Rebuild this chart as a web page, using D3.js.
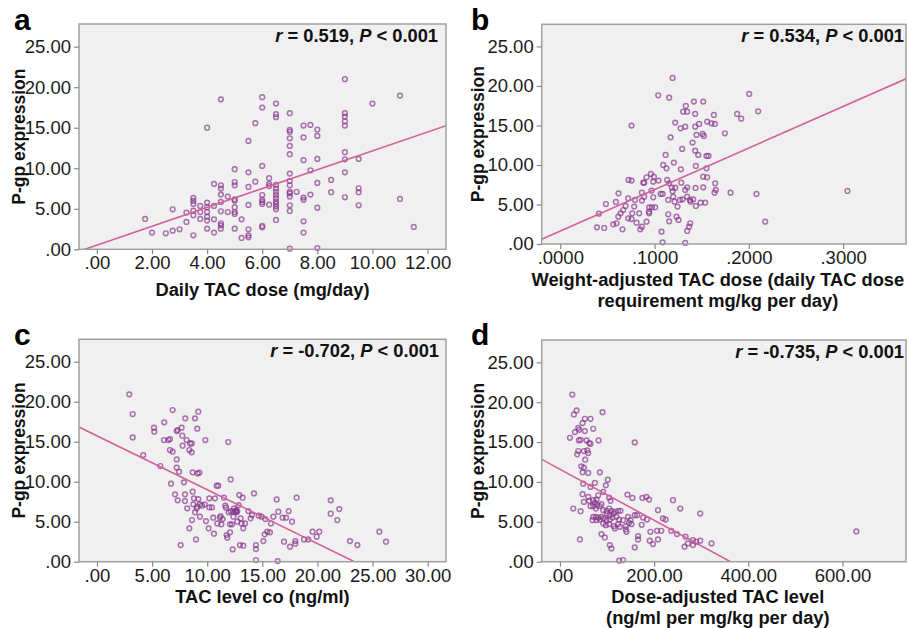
<!DOCTYPE html>
<html><head><meta charset="utf-8">
<script src="https://cdn.jsdelivr.net/npm/d3@7"></script>
<style>
body{margin:0;background:#fff;}
svg{display:block;font-family:"Liberation Sans",Arial,sans-serif;}
</style></head>
<body><svg id="c" width="907" height="628"></svg>
<script>
// ---------- DATA ----------
const yTicks = [0, 5, 10, 15, 20, 25];
const ticksA = [0, 2, 4, 6, 8, 10, 12];
const ticksB = [0, 0.1, 0.2, 0.3];
const ticksC = [0, 5, 10, 15, 20, 25, 30];
const ticksD = [0, 200, 400, 600];

// panel a: daily TAC dose (mg/day) vs P-gp expression
const doseX = [1.75,2,2.5,2.75,2.75,3,3.25,3.25,3.5,3.5,3.5,3.5,3.5,3.5,3.75,3.75,3.75,
 4,4,4,4,4,4,4,4.25,4.25,4.25,4.25,4.5,4.5,4.5,4.5,4.5,4.5,4.5,4.5,4.5,4.75,4.75,
 5,5,5,5,5,5,5,5,5,5.25,5.25,5.5,5.5,5.5,5.5,5.5,5.5,5.5,5.75,5.75,
 6,6,6,6,6,6,6,6,6,6.25,6.25,6.25,6.25,
 6.5,6.5,6.5,6.5,6.5,6.5,6.5,6.5,6.5,6.5,6.5,6.5,6.5,
 7,7,7,7,7,7,7,7,7,7,7,7,7,7,7,7.25,
 7.5,7.5,7.5,7.5,7.5,7.5,7.5,7.75,7.75,7.75,8,8,8,8,8,8,8.5,8.5,
 9,9,9,9,9,9,9,9,9,9.5,9.5,9.5,9.5,10,11,11,11.5];
const doseY = [3.74,2.06,1.98,4.94,2.3,2.47,4.53,3.37,6.34,5.97,5.6,4.77,4.2,1.73,5.35,4.6,3.74,
 15.0,5.76,5.19,4.6,4.03,3.54,2.55,8.07,5.35,3.7,2.06,18.5,7.9,7.49,6.75,5.84,4.69,3.21,2.96,2.55,6.5,4.6,
 9.88,8.3,7.9,6.17,6.0,5.19,4.6,4.36,2.55,3.7,1.4,13.37,9.5,7.7,5.47,2.47,1.73,1.48,15.56,8.35,
 18.77,17.49,10.29,6.7,6.1,5.84,5.6,2.88,2.72,8.77,8.07,7.8,5.5,
 17.98,16.67,16.3,7.94,7.5,7.1,6.7,6.3,5.88,5.6,5.27,4.94,3.62,
 16.79,14.73,14.5,13.7,12.76,11.73,9.34,8.44,7.9,7.08,6.9,6.5,5.43,4.73,0.08,7.1,
 15.27,13.8,11.0,6.38,6.1,3.46,2.06,15.35,9.75,6.75,14.77,13.99,11.15,8.19,5.14,0.16,8.56,7.04,
 20.99,16.79,16.38,15.8,15.27,11.98,11.11,9.5,6.42,11.15,7.53,7.04,5.43,17.98,18.97,6.21,2.76];

// panel b: weight-adjusted TAC dose (mg/kg per day) vs P-gp expression
const wDoseX = [0.0389,0.0466,0.041,0.0484,0.059,0.0618,0.0562,0.0597,0.066,0.0615,0.064,0.0668,0.0693,0.072,
 0.0724,0.0756,0.0756,0.072,0.0756,0.0763,0.0784,0.0792,0.0809,0.0837,0.0848,0.0866,0.0866,0.088,0.089,
 0.0866,0.089,0.0915,0.0915,0.094,0.0943,0.0943,0.0961,0.0972,0.0968,0.0986,0.0986,0.0993,0.1007,0.1042,
 0.1039,0.1064,0.1085,0.1074,0.1085,0.1092,0.1117,0.1127,0.1134,0.1145,0.1145,0.1155,0.1155,0.1155,0.117,
 0.1184,0.1191,0.1198,0.1191,0.1205,0.1219,0.1212,0.1219,0.1233,0.1244,0.1254,0.1269,0.1276,0.1279,0.1283,
 0.1293,0.1297,0.1304,0.1325,0.1325,0.1325,0.1332,0.1346,0.1346,0.1346,0.1346,0.1367,0.1375,0.1378,0.1382,
 0.1403,0.141,0.1417,0.1431,0.1431,0.1431,0.1435,0.1445,0.1438,0.1438,0.1463,0.1473,0.1488,0.1509,0.1523,
 0.1516,0.1516,0.1516,0.1537,0.1551,0.1551,0.1558,0.1558,0.1572,0.1604,0.1629,0.164,0.1643,0.165,0.1636,
 0.1746,0.1806,0.1876,0.1919,0.2004,0.2081,0.2099,0.2173,0.3046];
const wDoseY = [2.11,2.03,3.84,5.06,5.32,6.41,2.49,2.62,1.86,3.46,3.88,4.3,4.81,5.78,
 8.1,8.02,14.98,3.25,3.16,3.88,4.73,5.57,2.7,3.88,1.86,2.19,5.49,7.76,7.76,
 6.5,5.99,8.44,2.83,4.09,3.88,4.64,8.86,4.64,6.75,7.89,5.91,8.52,4.64,8.02,
 18.82,6.33,6.33,1.56,0.21,10.0,11.27,9.58,8.1,5.57,3.76,2.87,7.68,18.52,13.5,
 7.13,6.67,5.99,21.01,10.3,15.36,5.36,7.13,3.46,4.73,3.04,5.57,14.64,9.45,7.76,
 12.03,5.65,16.75,14.85,6.84,0.13,17.47,16.75,7.17,5.99,1.65,2.19,5.57,2.62,5.36,
 12.83,5.65,18.02,16.46,11.81,14.85,7.09,13.8,9.87,4.81,11.27,15.19,5.23,13.92,13.67,
 18.02,7.17,8.52,5.23,9.58,11.14,15.49,8.44,11.14,15.27,16.33,15.19,7.68,6.84,6.5,
 14.01,6.5,16.46,15.86,18.99,6.33,16.79,2.83,6.71];

// panel c: TAC level c0 (ng/ml) vs P-gp expression
const levelX = [2.93,3.24,3.24,4.2,5.17,5.2,5.75,6.1,6.08,6.47,6.62,6.62,6.71,6.86,6.86,7.08,7.23,7.32,7.23,7.23,
 7.32,7.44,7.59,7.68,7.74,7.77,7.89,7.98,7.98,8.01,8.13,8.19,8.38,8.44,8.59,8.38,8.59,8.62,8.68,8.68,8.74,8.8,
 8.89,8.89,8.98,9.04,9.1,9.19,9.13,9.28,9.19,9.1,9.34,9.34,9.52,9.77,9.83,9.89,10.13,10.19,10.19,10.43,10.55,
 10.61,10.7,10.86,11.0,10.92,11.16,11.22,11.28,11.4,11.52,11.64,11.7,11.76,11.82,11.91,11.94,12.07,12.07,12.13,
 12.13,12.25,12.31,12.37,12.37,12.43,12.55,12.61,12.67,12.73,12.73,12.85,12.91,12.97,13.03,13.12,13.21,13.27,
 13.27,13.43,13.73,13.94,14.06,14.24,14.42,14.42,14.42,14.67,14.94,15.09,15.21,15.27,15.45,15.69,15.78,16.0,
 16.3,16.39,16.45,16.84,16.97,17.15,17.39,17.51,17.69,17.99,17.99,18.11,18.78,19.17,19.56,19.93,20.17,21.2,
 21.2,21.8,21.98,22.95,23.62,25.61,26.22];
const levelY = [20.92,18.46,15.54,13.33,16.75,16.25,11.96,17.42,15.21,15.21,15.33,13.96,9.75,18.96,13.75,8.42,16.33,16.46,12.79,11.75,
 7.67,11.25,2.08,16.75,15.75,14.5,9.92,8.42,7.58,17.92,15.21,6.67,13.96,14.79,14.79,4.17,13.67,5.21,11.17,8.75,7.17,7.92,
 17.92,6.17,2.79,6.67,16.63,18.75,11.04,11.13,7.83,6.88,5.63,7.17,7.0,7.17,15.21,5.08,4.17,7.92,6.79,6.79,5.5,
 3.5,7.92,9.5,9.5,4.79,5.5,5.71,4.67,5.33,8.0,7.0,6.75,3.33,3.0,14.96,6.17,4.67,3.67,10.29,
 6.33,4.67,1.54,6.25,5.63,6.67,6.25,6.42,6.17,6.33,5.0,7.08,8.33,2.08,5.42,4.79,8.0,2.0,
 4.17,4.79,6.33,5.42,5.83,8.54,2.08,1.58,0.21,5.75,5.63,2.58,3.42,5.33,3.75,3.67,4.79,5.63,
 7.79,0.08,6.25,5.5,2.5,5.5,6.33,1.88,5.0,2.58,2.25,8.0,2.79,2.79,3.75,3.13,3.75,7.67,
 6.0,5.21,6.58,2.58,2.08,3.75,2.5];

// panel d: dose-adjusted TAC level (ng/ml per mg/kg per day) vs P-gp expression
const adjX = [26.1,35.3,29.6,52.9,64.9,90.4,48.0,38.8,40.9,31.8,52.9,70.6,21.2,40.2,43.8,56.5,62.1,64.9,81.9,158.8,
 38.8,50.8,57.9,60.0,36.7,53.6,45.2,50.8,48.0,60.0,84.7,101.6,74.1,49.4,97.4,64.9,91.8,48.0,60.0,81.2,104.5,
 107.3,143.3,153.9,175.1,183.5,189.2,240.0,28.2,43.8,50.8,62.1,70.6,74.1,77.6,64.9,70.6,79.1,84.7,88.2,76.2,
 91.8,98.8,104.5,109.4,116.5,123.5,128.5,100.2,105.9,112.9,70.6,76.2,81.2,88.2,69.2,77.6,84.7,93.2,98.8,105.9,
 111.5,120.0,125.6,134.1,144.7,149.6,158.8,163.8,176.5,184.9,91.8,97.4,104.5,114.4,123.5,127.1,139.8,146.8,
 151.8,173.7,116.5,141.2,139.8,192.0,206.1,215.3,208.2,218.8,224.5,236.5,255.5,248.5,266.8,282.4,289.4,297.9,
 297.9,282.4,271.8,264.7,321.9,42.4,88.2,95.3,105.9,109.4,158.8,165.9,165.9,190.6,197.6,208.2,125.6,134.1,629.6];
const adjY = [20.96,18.96,18.46,17.92,17.92,18.75,17.38,16.79,16.54,16.25,16.38,16.67,15.54,15.21,15.29,15.21,14.88,14.79,15.21,14.96,
 13.88,13.88,13.96,13.63,13.46,12.79,11.96,11.79,11.21,11.13,11.21,10.29,9.88,9.79,9.58,9.38,8.75,8.46,8.13,8.33,8.04,
 7.63,8.42,8.0,8.0,8.13,7.79,7.71,6.67,6.33,7.5,7.63,7.71,7.38,7.79,6.96,6.96,7.08,6.96,7.21,6.67,
 6.46,6.38,6.67,6.38,6.25,6.38,6.38,6.04,5.83,6.04,5.63,5.63,5.54,5.63,5.21,5.21,5.29,5.42,5.21,5.29,
 5.54,5.63,5.29,5.21,5.63,5.21,5.83,5.83,5.54,5.29,4.79,4.58,4.71,4.46,4.71,4.38,4.46,4.88,
 4.71,4.63,4.17,3.75,4.04,3.75,3.88,3.88,6.46,5.42,5.29,3.88,6.67,3.46,3.13,2.71,2.5,2.63,
 6.04,2.08,2.29,1.88,2.29,2.79,3.46,3.04,2.08,1.67,1.79,3.21,2.79,2.63,2.21,2.79,0.13,0.21,3.79];

// fitted regression lines [intercept, slope]
const fitA = [0.51, 1.164];
const fitB = [1.63, 52.56];
const fitC = [15.74, -0.674];
const fitD = [11.59, -0.03199];

const statR = ["0.519", "0.534", "-0.702", "-0.735"];
const panelLetters = ["a", "b", "c", "d"];
const yTitle = "P-gp expression";
const xTitles = [["Daily TAC dose (mg/day)"],
  ["Weight-adjusted TAC dose (daily TAC dose", "requirement mg/kg per day)"],
  ["TAC level co (ng/ml)"],
  ["Dose-adjusted TAC level", "(ng/ml per mg/kg per day)"]];

// ---------- LAYOUT ----------
const panels = [
  {xs: doseX, ys: doseY, xt: ticksA, prec: 2, fit: fitA, xd: [-0.65, 12.67], L: 79, R: 446, T: 24, B: 249.3, lx: 14, ly: 30, ytx: 19, sx: 438, tOff: 46.5},
  {xs: wDoseX, ys: wDoseY, xt: ticksB, prec: 4, fit: fitB, xd: [-0.0197, 0.3667], L: 541.7, R: 906, T: 24.3, B: 244, lx: 471, ly: 30, ytx: 478, sx: 904, tOff: 41.5},
  {xs: levelX, ys: levelY, xt: ticksC, prec: 2, fit: fitC, xd: [-1.63, 31.66], L: 79, R: 446, T: 339.3, B: 561.7, lx: 14, ly: 345, ytx: 19, sx: 439, tOff: 41},
  {xs: adjX, ys: adjY, xt: ticksD, prec: 2, fit: fitD, xd: [-38.8, 735], L: 541.7, R: 906, T: 340, B: 561.7, lx: 471, ly: 345, ytx: 478, sx: 904, tOff: 41}
];

const svg = d3.select("#c");
const fmt = (d, p) => d3.format("." + p + "f")(d).replace(/^0\./, ".").replace(/^-0\./, "-.");
const FS = 18.5;
const TS = 18.3;

panels.forEach((p, i) => {
  const x = d3.scaleLinear().domain(p.xd).range([p.L, p.R]);
  const y = d3.scaleLinear().domain([0, 27.8]).range([p.B, p.T]);
  const g = svg.append("g");

  g.append("rect").attr("x", p.L).attr("y", p.T).attr("width", p.R - p.L).attr("height", p.B - p.T)
    .attr("fill", "#f0f0f0");

  const clipId = "clip" + i;
  svg.append("clipPath").attr("id", clipId).append("rect")
    .attr("x", p.L).attr("y", p.T).attr("width", p.R - p.L).attr("height", p.B - p.T);

  const pts = p.xs.map((v, k) => [v, p.ys[k]]);
  g.append("g").selectAll("circle").data(pts).join("circle")
    .attr("cx", d => x(d[0])).attr("cy", d => y(d[1])).attr("r", 2.4)
    .attr("fill", "none").attr("stroke", "#84308a").attr("stroke-width", 1.45).attr("stroke-opacity", 0.68);

  const [b0, b1] = p.fit;
  g.append("line").attr("clip-path", "url(#" + clipId + ")")
    .attr("x1", x(p.xd[0])).attr("y1", y(b0 + b1 * p.xd[0]))
    .attr("x2", x(p.xd[1])).attr("y2", y(b0 + b1 * p.xd[1]))
    .attr("stroke", "#d2619a").attr("stroke-width", 1.6);

  g.append("rect").attr("x", p.L).attr("y", p.T).attr("width", p.R - p.L).attr("height", p.B - p.T)
    .attr("fill", "none").attr("stroke", "#a0a0a0").attr("stroke-width", 1.5);

  const ya = g.append("g").attr("transform", `translate(${p.L},0)`)
    .call(d3.axisLeft(y).tickValues(yTicks).tickSize(5).tickPadding(3).tickFormat(d => fmt(d, 2)));
  const xa = g.append("g").attr("transform", `translate(0,${p.B})`)
    .call(d3.axisBottom(x).tickValues(p.xt).tickSize(5).tickPadding(2).tickFormat(d => fmt(d, p.prec)));
  [ya, xa].forEach(a => {
    a.select(".domain").remove();
    a.selectAll("line").attr("stroke", "#888").attr("stroke-width", 1.2);
    a.selectAll("text").attr("font-size", FS).attr("fill", "#1a1a1a")
      .attr("font-family", '"Liberation Sans", Arial, sans-serif');
  });

  // stat text
  const st = g.append("text").attr("x", p.sx).attr("y", p.T + 18).attr("text-anchor", "end")
    .attr("font-size", TS).attr("font-weight", "bold").attr("fill", "#111");
  st.append("tspan").attr("font-style", "italic").text("r");
  st.append("tspan").text(" = " + statR[i] + ", ");
  st.append("tspan").attr("font-style", "italic").text("P");
  st.append("tspan").text(" < 0.001");

  // panel letter
  g.append("text").attr("x", p.lx).attr("y", p.ly).attr("font-size", 30).attr("font-weight", "bold")
    .attr("fill", "#000").text(panelLetters[i]);

  // y title
  g.append("text").attr("transform", `translate(${p.ytx},${(p.T + p.B) / 2}) rotate(-90)`)
    .attr("text-anchor", "middle").attr("dominant-baseline", "central")
    .attr("font-size", 17.5).attr("font-weight", "bold").attr("fill", "#111").text(yTitle);

  // x title
  const cx = (p.L + p.R) / 2 + (i % 2 === 1 ? -6 : 0);
  xTitles[i].forEach((t, k) => {
    g.append("text").attr("x", cx).attr("y", p.B + p.tOff + k * 21)
      .attr("text-anchor", "middle").attr("font-size", TS).attr("font-weight", "bold")
      .attr("fill", "#111").text(t);
  });
});
</script></body></html>
